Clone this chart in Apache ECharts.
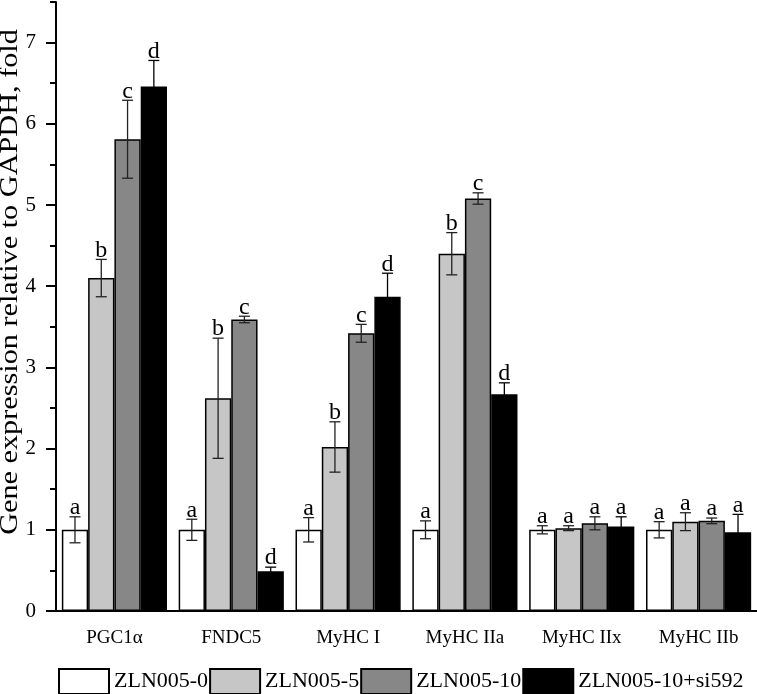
<!DOCTYPE html>
<html>
<head>
<meta charset="utf-8">
<script src="https://cdn.jsdelivr.net/npm/echarts@6/dist/echarts.min.js"></script>
<style>
  html, body { margin: 0; padding: 0; background: #fff; }
  #chart { width: 757px; height: 694px; }
</style>
</head>
<body>
<div id="chart"></div>
<script>
const categories = ['PGC1α', 'FNDC5', 'MyHC I', 'MyHC IIa', 'MyHC IIx', 'MyHC IIb']
const seriesNames = ['ZLN005-0', 'ZLN005-5', 'ZLN005-10', 'ZLN005-10+si592']

const zln0 = [1.0, 1.0, 1.0, 1.0, 1.0, 1.0]
const zln0Err = [0.16, 0.13, 0.15, 0.11, 0.05, 0.1]
const zln5 = [4.1, 2.62, 2.02, 4.4, 1.02, 1.1]
const zln5Err = [0.23, 0.74, 0.31, 0.26, 0.03, 0.11]
const zln10 = [5.81, 3.59, 3.42, 5.08, 1.08, 1.11]
const zln10Err = [0.48, 0.04, 0.11, 0.07, 0.08, 0.035]
const si592 = [6.46, 0.49, 3.87, 2.67, 1.04, 0.97]
const si592Err = [0.32, 0.05, 0.29, 0.14, 0.12, 0.22]

const zln0Letters = ['a', 'a', 'a', 'a', 'a', 'a']
const zln5Letters = ['b', 'b', 'b', 'b', 'a', 'a']
const zln10Letters = ['c', 'c', 'c', 'c', 'a', 'a']
const si592Letters = ['d', 'd', 'd', 'd', 'a', 'a']

const yTicks = [0, 1, 2, 3, 4, 5, 6, 7]

const means = [zln0, zln5, zln10, si592]
const errs = [zln0Err, zln5Err, zln10Err, si592Err]
const letters = [zln0Letters, zln5Letters, zln10Letters, si592Letters]
const colors = ['#ffffff', '#c6c6c6', '#878787', '#000000']

const FONT = "'Liberation Serif', 'Times New Roman', serif"
const GROUP = 0.9 // share of category band used by the 4 bars

const chart = echarts.init(document.getElementById('chart'))

const barSeries = seriesNames.map((name, k) => ({
  name: name,
  type: 'bar',
  data: means[k],
  barGap: 0,
  barCategoryGap: '10%',
  itemStyle: {
    color: colors[k],
    borderColor: '#000',
    borderWidth: 1.5,
  },
  z: 2,
}))

// error bars + significance letters, placed over each bar of the group
const errorSeries = seriesNames.map((name, k) => ({
  type: 'custom',
  data: categories.map((c, i) => [i, means[k][i], errs[k][i]]),
  encode: { x: 0, y: 1 },
  z: 5,
  silent: true,
  renderItem: function (params, api) {
    const i = api.value(0)
    const m = api.value(1)
    const e = api.value(2)
    const band = api.size([1, 0])[0]
    const barW = (band * GROUP) / 4
    const center = api.coord([i, m])[0]
    const cx = center - (band * GROUP) / 2 + barW * (k + 0.5)
    const yTop = api.coord([i, m + e])[1]
    const yBot = api.coord([i, m - e])[1]
    const cap = 5.5
    const lineStyle = { stroke: k === 3 ? '#000' : '#222', lineWidth: 1.3 }
    return {
      type: 'group',
      children: [
        { type: 'line', shape: { x1: cx, y1: yTop, x2: cx, y2: yBot }, style: lineStyle },
        { type: 'line', shape: { x1: cx - cap, y1: yTop, x2: cx + cap, y2: yTop }, style: lineStyle },
        { type: 'line', shape: { x1: cx - cap, y1: yBot, x2: cx + cap, y2: yBot }, style: lineStyle },
        {
          type: 'text',
          style: {
            text: letters[k][params.dataIndex],
            x: cx,
            y: yTop + 3,
            align: 'center',
            verticalAlign: 'bottom',
            fontFamily: FONT,
            fontSize: 24,
            fill: '#000',
          },
        },
      ],
    }
  },
}))

const option = {
  animation: false,
  backgroundColor: '#fff',
  grid: {
    left: 56,
    right: 0,
    top: 2,
    bottom: 83,
    containLabel: false,
  },
  legend: {
    data: seriesNames,
    left: 58,
    top: 668,
    icon: 'rect',
    itemWidth: 50,
    itemHeight: 25,
    itemGap: 1,
    padding: 0,
    textStyle: {
      fontFamily: FONT,
      fontSize: 22,
      color: '#000',
    },
  },
  xAxis: [
    {
      type: 'category',
      data: categories,
      axisLine: { lineStyle: { color: '#000', width: 2 } },
      axisTick: { alignWithLabel: true, length: 11, lineStyle: { color: '#000', width: 2 } },
      axisLabel: {
        margin: 18,
        fontFamily: FONT,
        fontSize: 19,
        color: '#000',
      },
      splitLine: { show: false },
    },
    {
      type: 'category',
      data: categories,
      position: 'bottom',
      axisLine: { show: false },
      axisTick: { alignWithLabel: false, length: 5, lineStyle: { color: '#000', width: 2 } },
      axisLabel: { show: false },
      splitLine: { show: false },
    },
  ],
  yAxis: [
    {
      type: 'value',
      min: 0,
      max: 7.5,
      interval: 1,
      axisLine: { show: true, lineStyle: { color: '#000', width: 2 } },
      axisTick: {
        show: true,
        length: 10,
        customValues: yTicks,
        lineStyle: { color: '#000', width: 2 },
      },
      axisLabel: {
        margin: 20,
        customValues: yTicks,
        fontFamily: FONT,
        fontSize: 21,
        color: '#000',
      },
      splitLine: { show: false },
    },
    {
      type: 'value',
      min: 0,
      max: 7.5,
      interval: 0.5,
      position: 'left',
      axisLine: { show: false },
      axisTick: { show: true, length: 6, lineStyle: { color: '#000', width: 2 } },
      axisLabel: { show: false },
      splitLine: { show: false },
    },
  ],
  graphic: [
    {
      type: 'text',
      x: 10,
      y: 282,
      rotation: Math.PI / 2,
      scaleX: 1.21,
      style: {
        text: 'Gene expression relative to GAPDH, fold',
        align: 'center',
        verticalAlign: 'middle',
        fontFamily: FONT,
        fontSize: 25,
        fill: '#000',
      },
    },
  ],
  series: [...barSeries, ...errorSeries],
}

chart.setOption(option)
</script>
</body>
</html>
